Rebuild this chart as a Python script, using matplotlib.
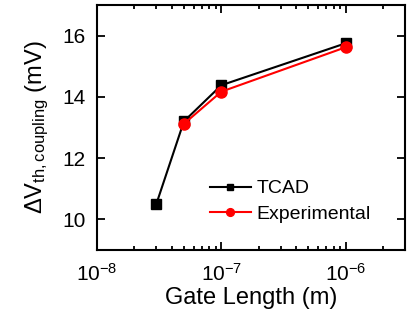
import matplotlib
matplotlib.use("Agg")
import matplotlib.pyplot as plt
import numpy as np
from matplotlib.ticker import LogLocator, NullFormatter, FuncFormatter

# ── Data ──────────────────────────────────────────────────────────────────────
tcad_len = [3e-8, 5e-8, 1e-7, 1e-6]
tcad_dv  = [10.5, 13.2, 14.38, 15.75]
exp_len  = [5e-8, 1e-7, 1e-6]
exp_dv   = [13.12, 14.17, 15.62]

plt.rcParams["font.family"] = ["Liberation Sans", "DejaVu Sans"]
plt.rcParams["mathtext.fontset"] = "custom"
plt.rcParams["mathtext.rm"] = "Liberation Sans"
plt.rcParams["mathtext.it"] = "Liberation Sans:italic"

fig = plt.figure(figsize=(4.14, 3.19), dpi=100)
ax = fig.add_axes([97 / 414, 1 - 250 / 319, 308 / 414, 245 / 319])

ax.plot(tcad_len, tcad_dv, color="black", marker="s", markersize=7, lw=1.5,
        label="TCAD")
ax.plot(exp_len, exp_dv, color="red", marker="o", markersize=8, lw=1.5,
        label="Experimental")

ax.set_xscale("log")
ax.set_xlim(1e-8, 3e-6)
ax.set_ylim(9, 17)
ax.set_yticks([10, 12, 14, 16])
ax.xaxis.set_major_locator(LogLocator(base=10, numticks=10))
ax.xaxis.set_major_formatter(
    FuncFormatter(lambda v, p: r"10$^{\mathregular{%d}}$" % round(np.log10(v))))
ax.xaxis.set_minor_locator(LogLocator(base=10, subs=range(2, 10), numticks=20))
ax.xaxis.set_minor_formatter(NullFormatter())

ax.tick_params(which="both", direction="in", top=True, right=True,
               labelsize=15, width=1.3)
ax.tick_params(which="major", length=6)
ax.tick_params(which="minor", length=3)
ax.tick_params(axis="x", which="major", pad=9)
ax.tick_params(axis="y", which="major", pad=8)
for s in ax.spines.values():
    s.set_linewidth(1.5)

ax.set_xlabel("Gate Length (m)", fontsize=17, labelpad=2)
ax.set_ylabel(r"$\Delta$V$_{\mathrm{th,coupling}}$ (mV)", fontsize=17, labelpad=8)

ax.legend(loc="lower left", bbox_to_anchor=(0.31, 0.04), frameon=False,
          fontsize=14, handlelength=2.1, handletextpad=0.3, labelspacing=0.4,
          markerscale=0.7)

fig.savefig("out.png", dpi=100)
